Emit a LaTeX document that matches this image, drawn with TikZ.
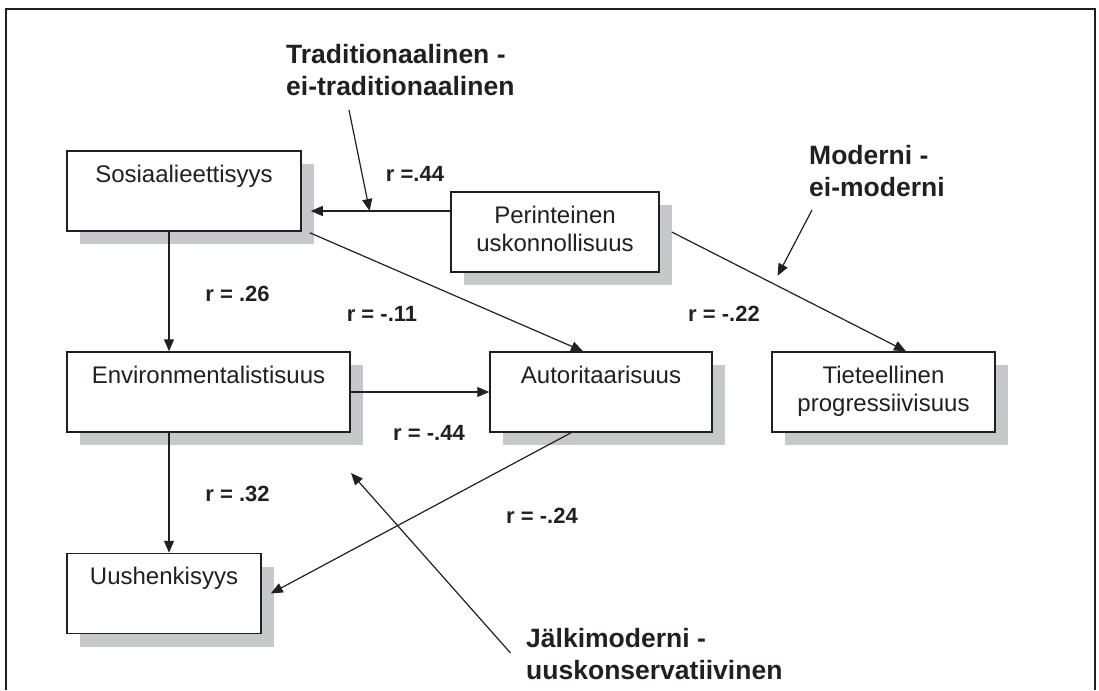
\documentclass[tikz,border=0pt]{standalone}
\usepackage{fontspec}
\setmainfont{Liberation Sans}
\usetikzlibrary{arrows.meta,shadows}
\definecolor{linecol}{RGB}{35,31,32}
\definecolor{shadowgray}{RGB}{199,200,202}
\newcommand\twoline[3]{\begin{tabular}[t]{@{}#1@{}}#2\\#3\end{tabular}}
\begin{document}
\begin{tikzpicture}[x=1pt,y=-1pt,
  box/.style={draw=linecol, line width=1.5pt, fill=white, inner sep=0pt, text=linecol,
    font=\fontsize{24}{28}\selectfont, text height=31pt, text depth=49pt,
    general shadow={fill=shadowgray, shadow xshift=13pt, shadow yshift=-13pt}},
  lab/.style={inner sep=0pt, text=linecol, font=\fontsize{26.5}{32}\selectfont\bfseries, anchor=base west},
  rlab/.style={inner sep=0pt, text=linecol, font=\fontsize{22}{26}\selectfont\bfseries, anchor=base},
  conn/.style={draw=linecol, line width=1.2pt, -{Triangle[length=12pt,width=10pt]}},
  frame/.style={draw=linecol, line width=1.3pt}]
\useasboundingbox (0,0) rectangle (1099,690);
\draw[frame] (6,690) -- (6,9) -- (1095,9) -- (1095,690);

% boxes
\node[box, minimum width=234pt] (sos) at (184,191) {Sosiaalieettisyys};
\node[box, minimum width=208pt] (per) at (555,232) {\twoline{c}{Perinteinen}{uskonnollisuus}};
\node[box, minimum width=283pt] (env) at (208.5,392) {Environmentalistisuus};
\node[box, minimum width=222pt] (aut) at (601,392) {Autoritaarisuus};
\node[box, minimum width=223pt] (tie) at (883.5,392) {\twoline{c}{Tieteellinen}{progressiivisuus}};
\node[box, minimum width=194pt] (uus) at (164,593.5) {Uushenkisyys};

% dimension labels
\node[lab] (trad) at (286,63.5) {\twoline{l}{Traditionaalinen -}{ei-traditionaalinen}};
\node[lab] (mod) at (809,164.5) {\twoline{l}{Moderni -}{ei-moderni}};
\node[lab] (jalk) at (526,647.5) {\twoline{l}{Jälkimoderni -}{uuskonservatiivinen}};

% correlation labels
\node[rlab] (r1) at (415,181) {r =.44};
\node[rlab] (r2) at (237.5,301) {r = .26};
\node[rlab] (r3) at (382,321) {r = -.11};
\node[rlab] (r4) at (724,321) {r = -.22};
\node[rlab] (r5) at (429,440) {r = -.44};
\node[rlab] (r6) at (237.5,501) {r = .32};
\node[rlab] (r7) at (542,523) {r = -.24};

% connectors
\coordinate (vx) at ([xshift=5pt]uus.north);
\draw[conn] ([yshift=21pt]per.west) -- coordinate[pos=0.578] (th) ([xshift=9pt,yshift=-20pt]sos.east);
\draw[conn] ([shift={(63,46.5)}]trad.base west) -- (th);
\draw[conn] ([xshift=8pt,yshift=-1pt]sos.south east) -- ([xshift=-18pt]aut.north);
\draw[conn] ([xshift=12pt]per.east) -- coordinate[pos=0.434] (mh) ([xshift=22.5pt]tie.north);
\draw[conn, shorten >=9pt] ([shift={(3,45.5)}]mod.base west) -- (mh);
\draw[conn] (vx |- sos.south) -- (vx |- env.north);
\draw[conn] (env.east) -- (aut.west);
\draw[conn] (vx |- env.south) -- (vx);
\draw[conn] ([xshift=-30pt]aut.south) -- ([xshift=9pt]uus.east);
\coordinate (jt) at (351,473);
\draw[conn] ([shift={(-15.5,5.5)}]jalk.base west) -- (jt);
\end{tikzpicture}
\end{document}
